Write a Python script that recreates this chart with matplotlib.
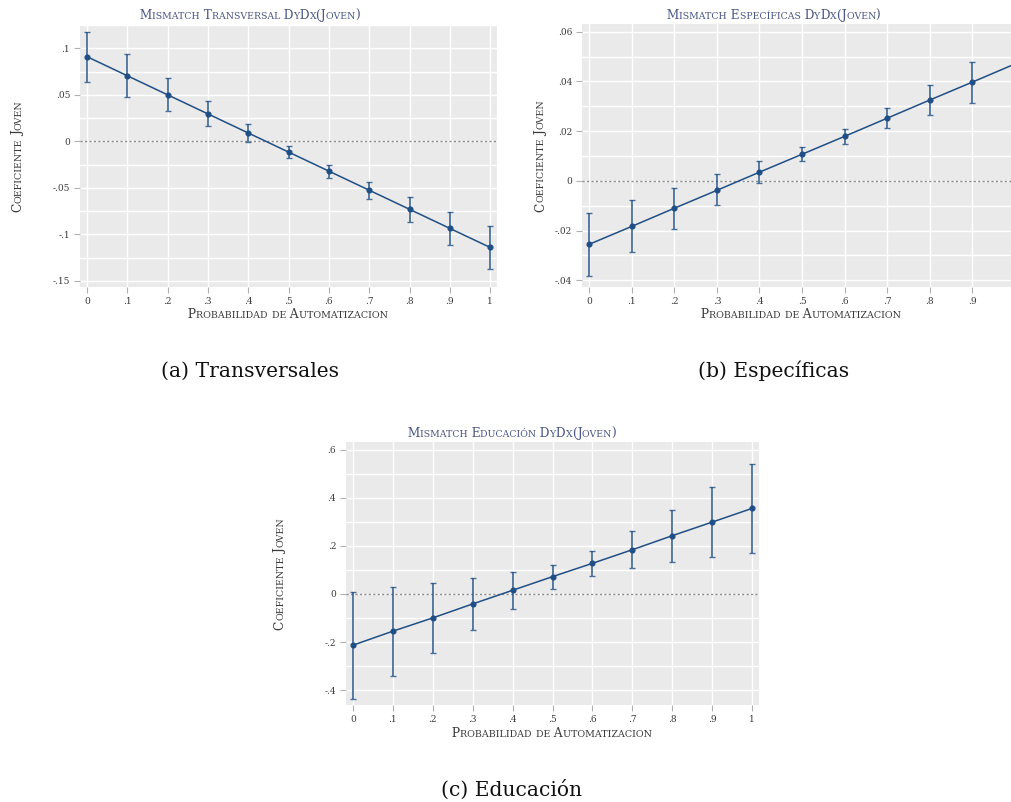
import matplotlib
matplotlib.use("Agg")
import matplotlib.pyplot as plt
from matplotlib.font_manager import FontProperties
import numpy as np

SERIF = "DejaVu Serif"
CAPTION_FONT = "DejaVu Serif"
LINE_COLOR = "#1f4f85"
TITLE_COLOR = "#4a5686"
TEXT_COLOR = "#3a3a3a"
BG = "#eaeaea"

prob = [0, .1, .2, .3, .4, .5, .6, .7, .8, .9, 1]
prob_labels = ["0", ".1", ".2", ".3", ".4", ".5", ".6", ".7", ".8", ".9", "1"]

# (a) Transversales
trans_coef = [0.091, 0.0705, 0.050, 0.0295, 0.009, -0.0115, -0.032, -0.0525, -0.073, -0.0935, -0.114]
trans_hi = [0.118, 0.0935, 0.0683, 0.0432, 0.0187, -0.005, -0.0255, -0.0432, -0.0597, -0.0755, -0.0914]
trans_lo = [0.064, 0.0478, 0.0324, 0.0162, -0.0004, -0.018, -0.0389, -0.0619, -0.0867, -0.1115, -0.1367]

# (b) Especificas
espec_coef = [-0.0255, -0.0183, -0.011, -0.0038, 0.0035, 0.0107, 0.0179, 0.0252, 0.0325, 0.0397, 0.047]
espec_hi = [-0.0129, -0.0079, -0.0028, 0.0026, 0.0078, 0.0137, 0.0208, 0.0294, 0.0385, 0.0478, 0.0565]
espec_lo = [-0.0381, -0.0286, -0.0193, -0.0099, -0.0008, 0.0078, 0.015, 0.0211, 0.0263, 0.0315, 0.0375]

# (c) Educacion
educ_coef = [-0.2133, -0.155, -0.0997, -0.0416, 0.0152, 0.072, 0.1274, 0.184, 0.2424, 0.299, 0.356]
educ_hi = [0.0083, 0.029, 0.047, 0.068, 0.09, 0.122, 0.18, 0.262, 0.350, 0.4446, 0.540]
educ_lo = [-0.435, -0.341, -0.245, -0.152, -0.062, 0.0194, 0.076, 0.109, 0.133, 0.1537, 0.172]

W, H = 1011, 802
fig = plt.figure(figsize=(W / 100, H / 100), dpi=100)
renderer = fig.canvas.get_renderer()


def px_box(left, top, right, bottom):
    return [left / W, 1 - bottom / H, (right - left) / W, (bottom - top) / H]


def ink(s, fp):
    return renderer.get_text_width_height_descent(s, fp, ismath=False)[0]


def advance(s, fp):
    # a leading space pins the ink box to the pen origin
    return ink(" " + s + "x", fp) - ink(" x", fp)


def smallcaps(x, y, text, size, color, rotation=0):
    # fake small caps: lowercase letters drawn as smaller capitals
    runs = []
    for ch in text:
        big = not ch.islower()
        s = ch.upper()
        if runs and runs[-1][1] == big:
            runs[-1][0] += s
        else:
            runs.append([s, big])
    props = [FontProperties(family=SERIF, size=size if big else size * 0.78) for _, big in runs]
    widths = [advance(s, fp) for (s, _), fp in zip(runs, props)]
    total = sum(widths)
    if rotation == 0:
        pos = x - total / 2
        for (s, _), fp, w in zip(runs, props, widths):
            sp = ink("  x", fp) - ink(" x", fp)
            fig.text((pos - sp) / W, 1 - y / H, " " + s, fontproperties=fp, color=color,
                     ha="left", va="baseline")
            pos += w
    else:
        pos = y + total / 2   # rotated text runs bottom -> top
        for (s, _), fp, w in zip(runs, props, widths):
            fig.text(x / W, 1 - pos / H, s, fontproperties=fp, color=color,
                     ha="left", va="baseline", rotation=90, rotation_mode="anchor")
            pos -= w


def panel(box, coef, lo, hi, ylim, yticks, ylabels, yminor, title, cx, title_y,
          xlab_x, xlab_y, ylab_x, hide_last=False):
    ax = fig.add_axes(px_box(*box))
    ax.set_facecolor(BG)
    for sp in ax.spines.values():
        sp.set_visible(False)
    ax.set_xlim(-0.0172, 1.017)
    ax.set_ylim(*ylim)
    ax.set_xticks(prob)
    ax.set_xticklabels(prob_labels)
    ax.set_yticks(yticks)
    ax.set_yticklabels(ylabels)
    ax.set_yticks(yminor, minor=True)
    ax.grid(True, which="both", color="white", linewidth=1.0)
    ax.set_axisbelow(True)
    ax.tick_params(which="major", direction="out", length=4, width=0.8, color="#b0b0b0",
                   labelsize=6.5, labelcolor=TEXT_COLOR, pad=3)
    ax.tick_params(which="minor", length=0)
    for lab in ax.get_xticklabels() + ax.get_yticklabels():
        lab.set_family(SERIF)
    if hide_last:
        ax.get_xticklabels()[-1].set_visible(False)
    ax.axhline(0, color="#8c8c8c", linestyle=(0, (1.6, 1.6)), linewidth=1.0)
    coef = np.array(coef)
    err = [coef - np.array(lo), np.array(hi) - coef]
    ax.errorbar(prob, coef, yerr=err, fmt="none", ecolor=LINE_COLOR, elinewidth=1.3,
                capsize=2.0, capthick=1.0, alpha=0.8)
    ax.plot(prob, coef, color=LINE_COLOR, linewidth=1.1, marker="o", markersize=3.4)
    smallcaps(cx, title_y, title, 8.7, TITLE_COLOR)
    top, bottom = box[1], box[3]
    smallcaps(xlab_x, xlab_y, "Probabilidad de Automatizacion", 8.8, TEXT_COLOR)
    smallcaps(ylab_x, (top + bottom) / 2, "Coeficiente Joven", 8.8, TEXT_COLOR, rotation=90)
    return ax


panel((80, 25, 497, 287), trans_coef, trans_lo, trans_hi, (-0.1565, 0.125),
      [-.15, -.1, -.05, 0, .05, .1], ["-.15", "-.1", "-.05", "0", ".05", ".1"],
      np.arange(-0.15, 0.126, 0.025), "Mismatch Transversal DyDx(Joven)", 250, 19,
      288, 318, 21)

panel((582, 24, 1022, 287), espec_coef, espec_lo, espec_hi, (-0.0427, 0.0631),
      [-.04, -.02, 0, .02, .04, .06], ["-.04", "-.02", "0", ".02", ".04", ".06"],
      np.arange(-0.04, 0.061, 0.01), "Mismatch Específicas DyDx(Joven)", 774, 19,
      801, 318, 544, hide_last=True)

panel((346, 442, 759, 705), educ_coef, educ_lo, educ_hi, (-0.462, 0.632),
      [-.4, -.2, 0, .2, .4, .6], ["-.4", "-.2", "0", ".2", ".4", ".6"],
      np.arange(-0.4, 0.61, 0.1), "Mismatch Educación DyDx(Joven)", 512, 437,
      552, 737, 283)

cap_fp = FontProperties(family=CAPTION_FONT, size=14.6)
fig.text(250 / W, 1 - 377 / H, "(a) Transversales", fontproperties=cap_fp, ha="center", va="baseline", color="#111111")
fig.text(774 / W, 1 - 377 / H, "(b) Específicas", fontproperties=cap_fp, ha="center", va="baseline", color="#111111")
fig.text(512 / W, 1 - 796 / H, "(c) Educación", fontproperties=cap_fp, ha="center", va="baseline", color="#111111")

fig.savefig("out.png", dpi=100)
